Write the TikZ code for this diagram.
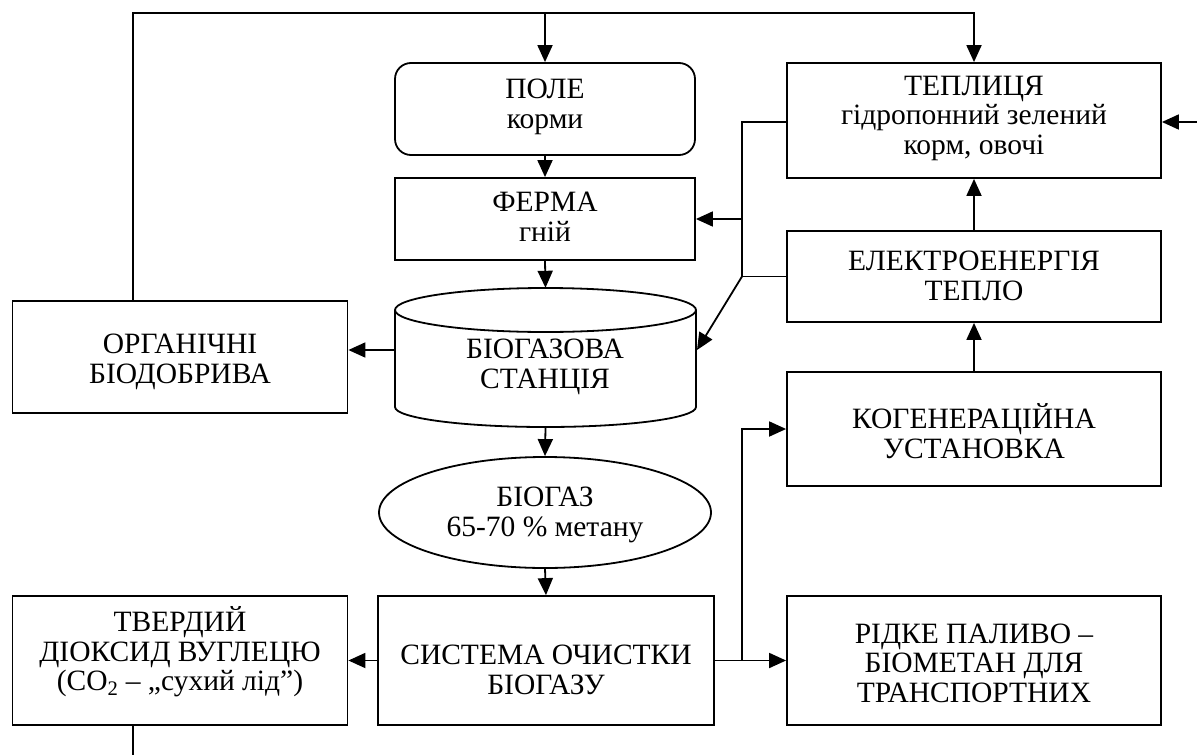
\documentclass[tikz,border=0pt]{standalone}
\usepackage{fontspec}
\setmainfont{Liberation Serif}
\usetikzlibrary{arrows.meta,shapes.geometric}
\begin{document}
\begin{tikzpicture}[x=1pt,y=-1pt,
  every node/.style={inner sep=0pt},
  txt/.style={font=\fontsize{29.5}{29.5}\selectfont, align=center},
  bx/.style={draw, line width=1.8pt},
  ln/.style={line width=1.8pt},
  arr/.style={line width=1.8pt, -{Triangle[length=17pt,width=15pt]}}]
\useasboundingbox (0,0) rectangle (1197,755);
% boxes
\node[bx, rounded corners=16pt, minimum width=300pt, minimum height=92pt] (pole) at (545,109) {};
\node[bx, minimum width=300pt, minimum height=82pt] (ferma) at (545,219) {};
\node[minimum width=301pt, minimum height=139pt] (bgs) at (545.5,357.5) {};
\node[bx, ellipse, minimum width=332pt, minimum height=111pt] (bg) at (545,512.5) {};
\node[bx, minimum width=336pt, minimum height=129pt] (sys) at (546,660.5) {};
\node[bx, minimum width=335pt, minimum height=129pt] (tv) at (180,660.5) {};
\node[bx, minimum width=335pt, minimum height=112pt] (org) at (180,357) {};
\node[bx, minimum width=374pt, minimum height=115pt] (tep) at (974,120.5) {};
\node[bx, minimum width=374pt, minimum height=91pt] (el) at (974,276.5) {};
\node[bx, minimum width=374pt, minimum height=114pt] (kog) at (974,429) {};
\node[bx, minimum width=374pt, minimum height=129pt] (rp) at (974,660.5) {};
% texts
\node[txt] (polet) at (545,107) {ПОЛЕ\\корми};
\node[txt] (fermat) at (545,217) {ФЕРМА\\гній};
\node[txt] (bgst) at (545,367) {БІОГАЗОВА\\СТАНЦІЯ};
\node[txt] (bgt) at (545,515) {БІОГАЗ\\65-70 \% метану};
\node[txt] (syst) at (546,670) {СИСТЕМА ОЧИСТКИ\\БІОГАЗУ};
\node[txt] (tvt) at (180,652) {ТВЕРДИЙ\\ДІОКСИД ВУГЛЕЦЮ\\(CO\textsubscript{2} – „сухий лід”)};
\node[txt] (orgt) at (180,362) {ОРГАНІЧНІ\\БІОДОБРИВА};
\node[txt] (tept) at (974,118) {ТЕПЛИЦЯ\\гідропонний зелений\\корм, овочі};
\node[txt] (elt) at (974,276) {ЕЛЕКТРОЕНЕРГІЯ\\ТЕПЛО};
\node[txt] (kogt) at (974,431) {КОГЕНЕРАЦІЙНА\\УСТАНОВКА};
\node[txt] (rpt) at (974,663) {РІДКЕ ПАЛИВО –\\БІОМЕТАН ДЛЯ\\ТРАНСПОРТНИХ};
% cylinder outline
\draw[ln] (545.5,310) ellipse [x radius=150.5pt, y radius=22pt];
\draw[ln] (395,310) -- (395,407) arc[start angle=180, end angle=360, x radius=150.5pt, y radius=20pt] -- (696,310);
% coordinates
\coordinate (lx) at (133,13);
\coordinate (bot) at (133,755);
\coordinate (jx) at (742,0);
\coordinate (re) at (1197,122);
\coordinate (cylr) at (697,350);
% connectors
\draw[arr] (lx |- org.north) -- (lx) -| (tep.north);
\draw[arr] (pole.north |- lx) -- (pole.north);
\draw[arr] (pole.south) -- (ferma.north);
\draw[arr] (ferma.south) -- (bgs.north);
\draw[arr] (bgs.west |- cylr) -- (org.east |- cylr);
\draw[arr] (bgs.south) -- (bg.north);
\draw[arr] (bg.south) -- (sys.north);
\draw[arr] (sys.west) -- (tv.east);
\draw[ln] (tv.south -| bot) -- (bot);
\draw[arr] (sys.east) -- (rp.west);
\draw[arr] (sys.east -| jx) |- (kog.west);
\draw[arr] (kog.north) -- (el.south);
\draw[arr] (el.north) -- (tep.south);
\draw[ln] (tep.west |- re) -| (jx |- el.west) -- (el.west);
\draw[arr] (jx |- ferma.east) -- (ferma.east);
\draw[arr] (jx |- el.west) -- (cylr);
\draw[arr] (re) -- (tep.east |- re);
\end{tikzpicture}
\end{document}
